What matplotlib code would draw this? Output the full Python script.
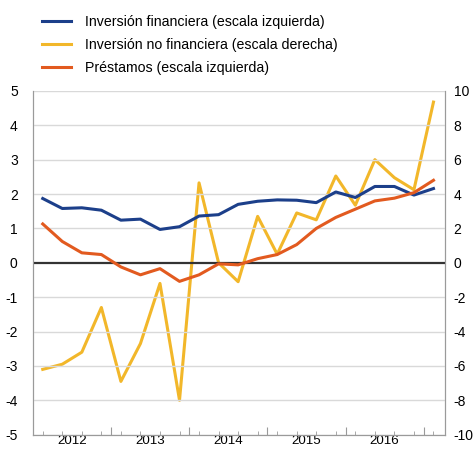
import numpy as np
import matplotlib
matplotlib.use('Agg')
import matplotlib.pyplot as plt

plt.rcParams['font.family'] = ['Liberation Sans', 'DejaVu Sans']
plt.rcParams['axes.unicode_minus'] = False

# trimestres 2012T1 .. 2017T1
years = ['2012', '2013', '2014', '2015', '2016']
n_quarters = 21

# escala izquierda
inv_fin = [1.87, 1.58, 1.60, 1.53, 1.24, 1.27, 0.97, 1.05, 1.36, 1.40, 1.70, 1.79,
           1.83, 1.82, 1.75, 2.06, 1.90, 2.22, 2.22, 1.97, 2.16]
prestamos = [1.13, 0.62, 0.29, 0.24, -0.12, -0.35, -0.17, -0.54, -0.35, -0.03, -0.06, 0.12,
             0.24, 0.53, 1.0, 1.32, 1.56, 1.80, 1.88, 2.04, 2.40]
# escala derecha
inv_no_fin = [-6.2, -5.9, -5.2, -2.6, -6.9, -4.7, -1.2, -8.0, 4.65, 0.0, -1.1, 2.7,
              0.5, 2.9, 2.5, 5.05, 3.35, 6.0, 4.95, 4.25, 9.35]

labels = ['Inversión financiera (escala izquierda)',
          'Inversión no financiera (escala derecha)',
          'Préstamos (escala izquierda)']

c_blue = '#1c3f8a'
c_yellow = '#f2b72a'
c_orange = '#e25a1f'
c_grey = '#9a9a9a'

x = np.arange(n_quarters) + 0.5

fig = plt.figure(figsize=(4.76, 4.5), dpi=100)
ax = fig.add_axes([0.0693, 0.034, 0.866, 0.764])
ax2 = ax.twinx()

ax.set_ylim(-5, 5)
ax2.set_ylim(-10, 10)
ax.set_xlim(0, 21.1)

for v in range(-5, 6):
    if v != 0:
        ax.axhline(v, color='#d9d9d9', lw=1.0, zorder=0)
ax.axhline(0, color='#333333', lw=1.6, zorder=1)

l1, = ax.plot(x, inv_fin, color=c_blue, lw=2.2, zorder=3)
l3, = ax.plot(x, prestamos, color=c_orange, lw=2.2, zorder=3)
l2, = ax2.plot(x, inv_no_fin, color=c_yellow, lw=2.2, zorder=2)

ax.set_zorder(ax2.get_zorder() + 1)
ax.patch.set_visible(False)

for a in (ax, ax2):
    for s in a.spines.values():
        s.set_color(c_grey)
    a.spines['top'].set_visible(False)

ax.set_yticks(range(-5, 6))
ax2.set_yticks(range(-10, 11, 2))
ax.tick_params(axis='y', length=0, pad=11, labelsize=10)
ax2.tick_params(axis='y', length=0, pad=6, labelsize=10)

# etiquetas de año centradas, ticks de trimestre y de año
ax.set_xticks([4 * i + 2 for i in range(len(years))])
ax.set_xticklabels(years)
ax.tick_params(axis='x', which='major', length=0, pad=0.5, labelsize=9.6)
ax.set_xticks(x, minor=True)
ax.tick_params(axis='x', which='minor', direction='in', length=3, color=c_grey)
sec = ax.secondary_xaxis('bottom')
sec.set_xticks([4 * i for i in range(1, 6)])
sec.set_xticklabels([])
sec.tick_params(direction='in', length=6, color=c_grey)
sec.spines['bottom'].set_visible(False)

fig.legend([l1, l2, l3], labels, loc='upper left', bbox_to_anchor=(0.062, 0.995),
           frameon=False, fontsize=10.2, handlelength=2.0, handletextpad=1.0,
           labelspacing=0.62)

fig.savefig('out.png', dpi=100)
